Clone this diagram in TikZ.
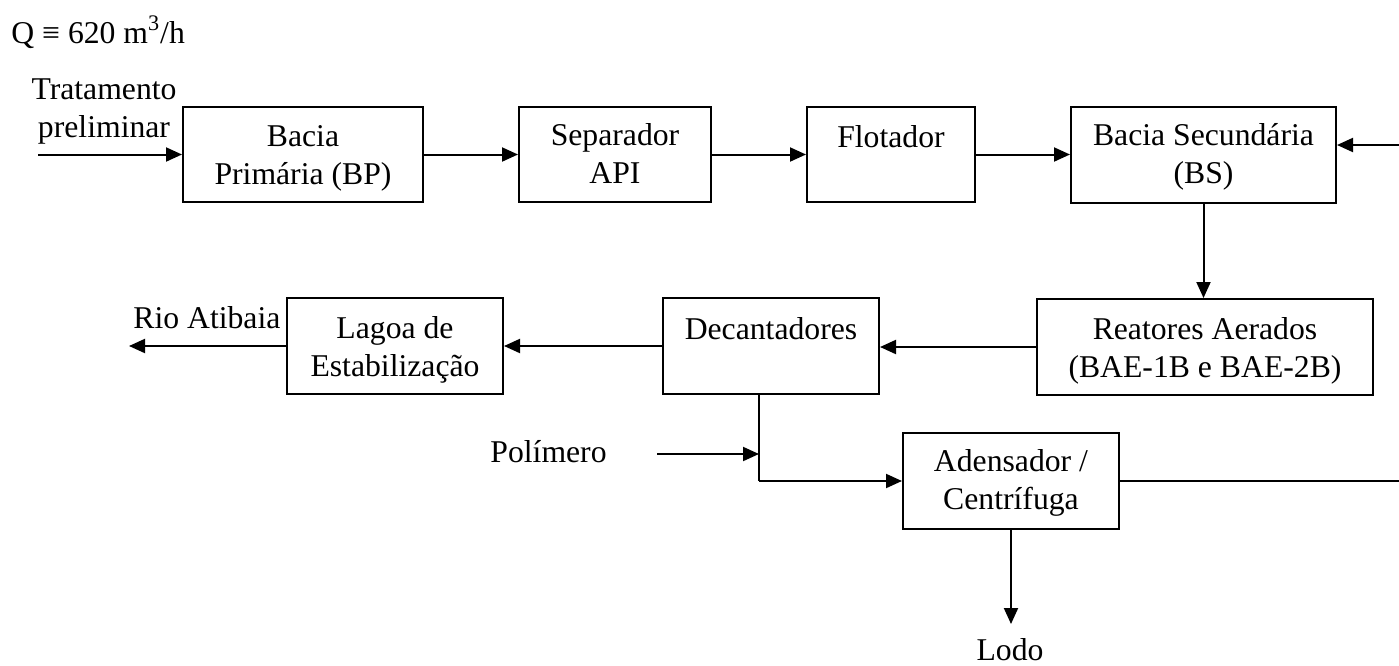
\documentclass[tikz,border=0pt]{standalone}
\usepackage{fontspec}
\setmainfont{Liberation Serif}
\usetikzlibrary{arrows.meta}
\begin{document}
\begin{tikzpicture}[x=0.5pt,y=-0.5pt,
  box/.style={draw, line width=1pt, rectangle, inner sep=0pt, minimum height=48pt},
  txt/.style={inner sep=0pt, font=\fontsize{15.85pt}{18.75pt}\selectfont, align=center},
  flow/.style={line width=1pt, -{Triangle[length=8pt,width=7pt]}},
  plain/.style={line width=1pt}]
\useasboundingbox (0,0) rectangle (1399,665);
% boxes
\node[box, minimum width=120pt, minimum height=47.5pt] (bp)  at (303,154.5) {};
\node[box, minimum width=96pt, minimum height=47.5pt]  (sep) at (615,154.5) {};
\node[box, minimum width=84pt, minimum height=47.5pt]  (flo) at (891,154.5) {};
\node[box, minimum width=132.5pt] (bs)  at (1203.5,155) {};
\node[box, minimum width=108pt] (lag) at (395,346) {};
\node[box, minimum width=108pt] (dec) at (771,346) {};
\node[box, minimum width=168pt] (rea) at (1205,347) {};
\node[box, minimum width=108pt] (ad)  at (1011,481) {};
% box texts (base anchor = baseline of the last line)
\node[txt, anchor=base] (bp-t)  at (303,184) {Bacia\\Primária (BP)};
\node[txt, anchor=base] (sep-t) at (615,183) {Separador\\API};
\node[txt, anchor=base] (flo-t) at (891,147) {Flotador};
\node[txt, anchor=base] (bs-t)  at (1203.5,183) {Bacia Secundária\\(BS)};
\node[txt, anchor=base] (lag-t) at (395,376) {Lagoa de\\Estabilização};
\node[txt, anchor=base] (dec-t) at (771,339) {Decantadores};
\node[txt, anchor=base] (rea-t) at (1205,377) {Reatores Aerados\\(BAE-1B e BAE-2B)};
\node[txt, anchor=base] (ad-t)  at (1011,509) {Adensador /\\Centrífuga};
% free texts
\node[txt, anchor=base west] (q) at (11,43) {Q ≡ 620 m\textsuperscript{3}/h};
\node[txt, anchor=base] (trat) at (104,137) {Tratamento\\preliminar};
\node[txt, anchor=base west] (rio) at (133,328) {Rio Atibaia};
\node[txt, anchor=base west] (pol) at (490,462) {Polímero};
\node[txt, anchor=base] (lodo) at (1010,660) {Lodo};
% coordinates
\coordinate (in) at (38,154.5);
\coordinate (out) at (129,346);
\coordinate (polS) at (657,454);
\coordinate (j1) at (759,481);
\coordinate (lodoE) at (1011,624);
\coordinate (retIn) at (1399,145);
\coordinate (retOut) at (1399,481);
% connectors
\draw[flow] (in) -- (bp.west);
\draw[flow] (bp.east) -- (sep.west);
\draw[flow] (sep.east) -- (flo.west);
\draw[flow] (flo.east) -- (flo.east -| bs.west);
\draw[flow] (retIn) -- (retIn -| bs.east);
\draw[flow] (bs.south) -- (bs.south |- rea.north);
\draw[flow] (rea.west) -- (rea.west -| dec.east);
\draw[flow] (dec.west) -- (lag.east);
\draw[flow] (lag.west) -- (out);
\draw[plain] (dec.south -| j1) -- (j1);
\draw[flow] (j1) -- (ad.west);
\draw[flow] (polS) -- (polS -| j1);
\draw[flow] (ad.south) -- (lodoE);
\draw[plain] (ad.east) -- (retOut);
\end{tikzpicture}
\end{document}
